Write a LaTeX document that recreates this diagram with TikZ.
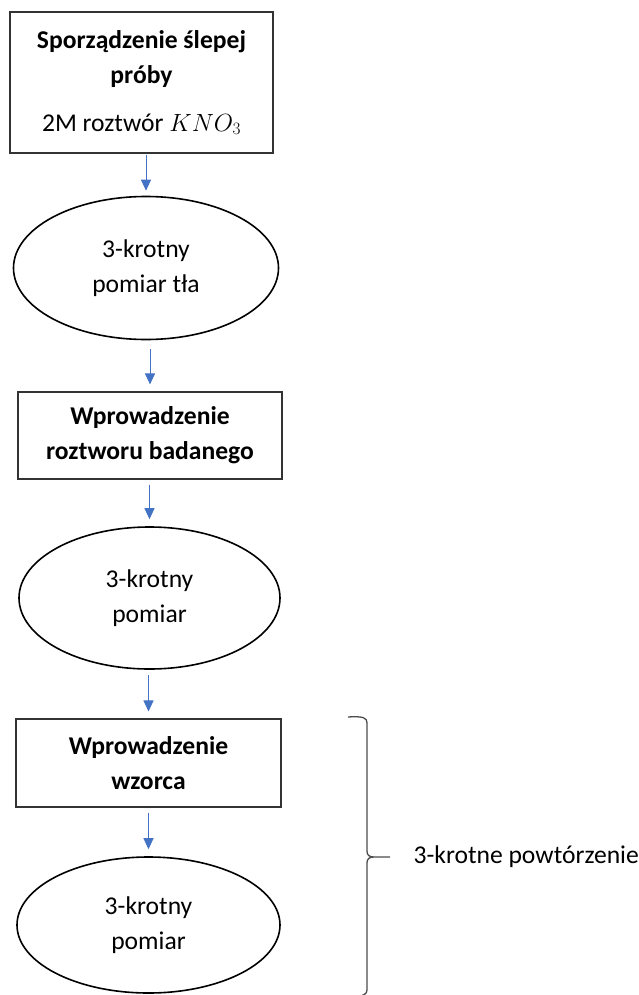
\documentclass[tikz,border=0pt]{standalone}
\usepackage{fontspec}
\setmainfont{Carlito}
\usepackage{tikz}
\usetikzlibrary{shapes.geometric, arrows.meta, positioning, calc}
\definecolor{flowblue}{HTML}{4472C4}

\begin{document}
\begin{tikzpicture}[
  x=1pt, y=-1pt,
  every node/.style={font=\fontsize{25.6}{35}\selectfont},
  stepbox/.style={rectangle, draw=black!80, line width=1.1pt, align=center, inner sep=0pt},
  measure/.style={ellipse, draw=black, line width=1.6pt, align=center, inner sep=0pt},
  arrow/.style={-{Triangle[length=11pt, width=10pt]}, draw=flowblue, line width=1pt, shorten <=5pt, shorten >=7pt}
]
\useasboundingbox (0,0) rectangle (639,995);

% Steps of the procedure
\node[stepbox, minimum width=263pt, minimum height=141pt] (blank) at (141.5,82.5)
  {\textbf{Sporządzenie ślepej}\\ \textbf{próby}\\[13pt] 2M roztwór $KNO_3$};
\node[measure, minimum width=265pt, minimum height=143pt] (bgmeas) at (146,268)
  {3-krotny\\ pomiar tła};
\node[stepbox, minimum width=264pt, minimum height=87pt] (sample) at (150,435.5)
  {\textbf{Wprowadzenie}\\ \textbf{roztworu badanego}};
\node[measure, minimum width=261pt, minimum height=142pt] (samplemeas) at (149.5,598)
  {3-krotny\\ pomiar};
\node[stepbox, minimum width=265pt, minimum height=88pt] (standard) at (148.5,763)
  {\textbf{Wprowadzenie}\\ \textbf{wzorca}};
\node[measure, minimum width=263pt, minimum height=136pt] (stdmeas) at (148.5,925)
  {3-krotny\\ pomiar};

% Arrows between the steps
\draw[arrow, shorten <=1pt, shorten >=5pt] (bgmeas.north |- blank.south) -- (bgmeas.north);
\draw[arrow, shorten <=9pt] (sample.north |- bgmeas.south) -- (sample.north);
\draw[arrow] (samplemeas.north |- sample.south) -- (samplemeas.north);
\draw[arrow] (standard.north |- samplemeas.south) -- (standard.north);
\draw[arrow] (stdmeas.north |- standard.south) -- (stdmeas.north);

% Repetition brace
\coordinate (bracetop) at (348,717);
\coordinate (bracetip) at (390,857);
\coordinate (bracebot) at (358,996);
\draw[black!70, line width=1.3pt]
  (bracetop) .. controls (364,716) and (367,718) .. (367,723) -- (367,851)
  .. controls (367,855) and (369,857) .. (374,857) -- (bracetip)
  (374,857) .. controls (369,857) and (367,859) .. (367,863) -- (367,990)
  .. controls (367,994) and (363,996) .. (bracebot);
\node[anchor=west] (repeat) at (410,857) {3-krotne powtórzenie};

\end{tikzpicture}
\end{document}
